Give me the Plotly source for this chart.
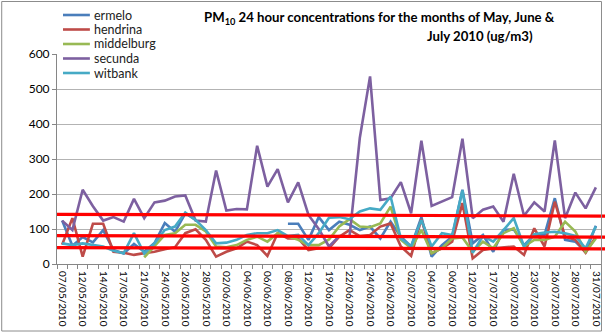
import plotly.graph_objects as go

dates = ["07/05/2010", "11/05/2010", "12/05/2010", "13/05/2010", "14/05/2010", "16/05/2010",
         "17/05/2010", "20/05/2010", "21/05/2010", "23/05/2010", "24/05/2010", "25/05/2010",
         "26/05/2010", "27/05/2010", "28/05/2010", "31/05/2010", "02/06/2010", "03/06/2010",
         "04/06/2010", "05/06/2010", "06/06/2010", "07/06/2010", "08/06/2010", "10/06/2010",
         "12/06/2010", "15/06/2010", "19/06/2010", "21/06/2010", "22/06/2010", "23/06/2010",
         "24/06/2010", "25/06/2010", "26/06/2010", "30/06/2010", "02/07/2010", "03/07/2010",
         "04/07/2010", "05/07/2010", "06/07/2010", "08/07/2010", "12/07/2010", "15/07/2010",
         "17/07/2010", "19/07/2010", "20/07/2010", "21/07/2010", "23/07/2010", "25/07/2010",
         "26/07/2010", "27/07/2010", "28/07/2010", "30/07/2010", "31/07/2010"]

ermelo = [124, 52, 77, 62, 97, 40, 30, 57, 35, 60, 117, 92, 145, 126,
          None, None, None, None, None, None, None, None,
          115, 115, 69, 134, 97, 121, 112, 97, 107, 73, 121, 78, 50, 134, 21, 54, 78, 212,
          59, 83, 35, 97, 99, 54, 83, 83, 188, 69, 64, 35, 109]
hendrina = [55, 131, 21, 115, 115, 35, 32, 26, 31, 35, 42, 48, 88, 99, 69, 21, 35, 45,
            64, 54, 23, 88, 73, 73, 40, 45, 45, 78, 97, 80, 83, 107, 116, 50, 23, 128,
            31, 45, 64, 174, 16, 40, 45, 48, 50, 26, 102, 50, 178, 78, 69, 32, 78]
middelburg = [None, None, None, None, None, None, None, None,
              19, 50, 83, 88, 112, 112, 93, 50, 48, 54, 69, 78, 64, 88, 78, 69, 54, 54,
              70, 107, 128, 107, 105, 116, 164, 69, 45, 97, 31, 45, 73, 76, 35, 64, 45,
              88, 102, 50, 69, 69, 78, 121, 93, 35, 73]
secunda = [124, 97, 212, 165, 124, 134, 121, 186, 131, 176, 181, 193, 196, 124, 121, 267,
           153, 157, 156, 338, 221, 271, 176, 233, 140, 100, 50, 80, 78, 360, 536, 183,
           188, 234, 145, 352, 166, 178, 191, 358, 131, 155, 164, 121, 258, 138, 176, 150,
           353, 131, 204, 159, 219]
witbank = [59, 54, 59, 54, 50, 38, 31, 88, 30, 59, 97, 107, 147, 126, 97, 59, 61, 69, 83,
           88, 88, 97, 80, 83, 54, 88, 132, 134, 128, 150, 159, 155, 193, 73, 50, 126, 50,
           88, 83, 210, 32, 80, 64, 97, 131, 50, 85, 90, 92, 88, 80, 45, 107]

series_names = ["ermelo", "hendrina", "middelburg", "secunda", "witbank"]
series_values = [ermelo, hendrina, middelburg, secunda, witbank]
colors = ["#4A7EBB", "#BE4B48", "#98B954", "#7D60A0", "#46AAC5"]

# hand-drawn red reference lines (value at left end, value at right end)
ref_lines = [(142, 137), (81, 77), (47, 43)]

y_ticks = [0, 100, 200, 300, 400, 500, 600]

W, H = 607, 334
L, R, T, B = 57, 4, 54, 70
pw, ph = W - L - R, H - T - B

def px(x):
    return (x - L) / pw

def py(y):
    return (H - B - y) / ph

idx = list(range(len(dates)))
fig = go.Figure()
for name, vals, col in zip(series_names, series_values, colors):
    fig.add_trace(go.Scatter(x=idx, y=vals, mode="lines", name=name,
                             line=dict(color=col, width=2.6), connectgaps=False))

font = "Lato, Liberation Sans, sans-serif"
fig.update_layout(
    width=W, height=H, margin=dict(l=L, r=R, t=T, b=B),
    paper_bgcolor="white", plot_bgcolor="white", showlegend=False,
    xaxis=dict(range=[-0.5, len(dates) - 0.5], tickmode="array",
               tickvals=idx[::2], ticktext=dates[::2], tickangle=90,
               ticks="", showgrid=False, zeroline=False, ticklabelstandoff=4,
               showline=True, linecolor="#868686", linewidth=1,
               tickfont=dict(family=font, size=10, color="black"),
               minor=dict(tickmode="linear", tick0=-0.5, dtick=1, ticks="outside",
                          ticklen=4, tickcolor="#868686", showgrid=False)),
    yaxis=dict(range=[0, 600], tickmode="array", tickvals=y_ticks,
               showgrid=True, gridcolor="#B3B3B3", gridwidth=1, zeroline=False,
               showline=True, linecolor="#868686", linewidth=1,
               ticks="outside", ticklen=4, tickcolor="#868686",
               tickfont=dict(family=font, size=12, color="black")),
)

for y0, y1 in ref_lines:
    fig.add_shape(type="line", xref="paper", yref="y", x0=0, x1=px(W), y0=y0, y1=y1,
                  line=dict(color="#FF0000", width=3.2), layer="above")

# chart border
fig.add_shape(type="rect", xref="paper", yref="paper", x0=px(1.5), x1=px(603.5),
              y0=py(331), y1=py(1.5), line=dict(color="#8C8C8C", width=1), layer="above")

# legend
row_y = [15, 29.5, 44, 58.5, 73]
for name, col, ry in zip(series_names, colors, row_y):
    fig.add_shape(type="line", xref="paper", yref="paper", x0=px(63), x1=px(90),
                  y0=py(ry), y1=py(ry), line=dict(color=col, width=2.6))
    fig.add_annotation(xref="paper", yref="paper", x=px(92), y=py(ry), text=name,
                       showarrow=False, xanchor="left", yanchor="middle",
                       font=dict(family=font, size=12.5, color="#222"))

# title
fig.add_annotation(xref="paper", yref="paper", x=px(381), y=py(18),
                   text="<b>PM<sub>10</sub> 24 hour concentrations for the months of May, June &</b>",
                   showarrow=False, xanchor="center", yanchor="middle",
                   font=dict(family=font, size=13.2, color="black"))
fig.add_annotation(xref="paper", yref="paper", x=px(482), y=py(36),
                   text="<b>July 2010 (ug/m3)</b>",
                   showarrow=False, xanchor="center", yanchor="middle",
                   font=dict(family=font, size=13.2, color="black"))

fig.write_html("out.html")
